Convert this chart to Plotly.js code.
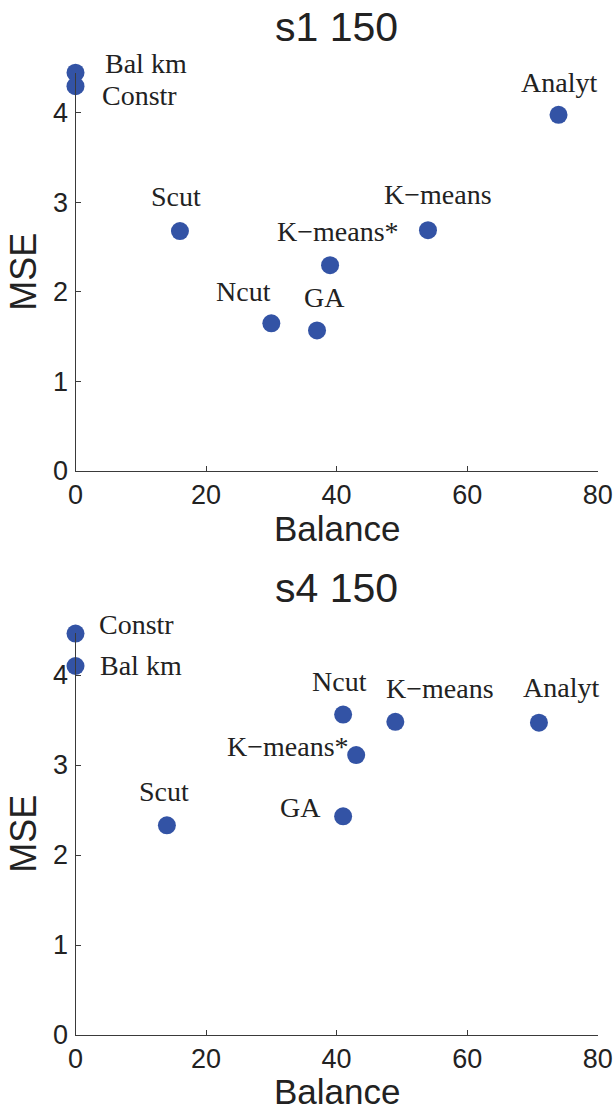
<!DOCTYPE html>
<html>
<head>
<meta charset="utf-8">
<script src="https://cdn.plot.ly/plotly-3.0.1.min.js"></script>
<style>html,body{margin:0;padding:0;background:#fff;}#chart{width:616px;height:1110px;}</style>
</head>
<body>
<div id="chart"></div>
<script>
// ---- data ----
const title1 = 's1 150';
const names1 = ['Bal km', 'Constr', 'Analyt', 'Scut', 'K\u2212means', 'K\u2212means*', 'Ncut', 'GA'];
const balance1 = [0, 0, 74, 16, 54, 39, 30, 37];
const mse1 = [4.45, 4.30, 3.98, 2.68, 2.69, 2.30, 1.65, 1.57];

const title2 = 's4 150';
const names2 = ['Constr', 'Bal km', 'Ncut', 'K\u2212means', 'Analyt', 'K\u2212means*', 'Scut', 'GA'];
const balance2 = [0, 0, 41, 49, 71, 43, 14, 41];
const mse2 = [4.46, 4.10, 3.56, 3.48, 3.47, 3.11, 2.33, 2.43];

const xTicks = [0, 20, 40, 60, 80];
const yTicks = [0, 1, 2, 3, 4];
const xTitle = 'Balance';
const yTitle = 'MSE';

// ---- styling (label pixel offsets relative to their points) ----
const shift1 = [[70, 9], [64, -9], [0, 32], [-4, 35], [10, 36], [8, 34], [-28, 32], [7, 33]];
const shift2 = [[61, 9], [65, 1], [-4, 33], [45, 33], [22, 35], [-68, 9], [-3, 34], [-43, 9]];

const markerColor = '#3353a5';
const axisColor = '#3a3a3a';
const textColor = '#222222';
const sans = 'Liberation Sans, Arial, sans-serif';
const serif = 'Liberation Serif, Times New Roman, serif';

function scatter(x, y, xa, ya) {
  return {
    type: 'scatter', mode: 'markers', x: x, y: y, xaxis: xa, yaxis: ya,
    marker: {size: 18, color: markerColor, line: {width: 0}},
    cliponaxis: false, hoverinfo: 'skip', showlegend: false
  };
}

function xaxisCfg() {
  return {
    domain: [75.5 / 616, 597.7 / 616], range: [0, 80], tickvals: xTicks, ticktext: xTicks.map(String),
    ticks: 'inside', ticklen: 5, tickwidth: 1, tickcolor: axisColor,
    showline: true, linecolor: axisColor, linewidth: 1, showgrid: false, zeroline: false,
    tickfont: {family: sans, size: 27, color: textColor},
    ticklabelstandoff: 0,
    fixedrange: true
  };
}
function yaxisCfg(domain, top) {
  return {
    domain: domain, range: [0, top], tickvals: yTicks, ticktext: yTicks.map(String),
    ticks: 'inside', ticklen: 5, tickwidth: 1, tickcolor: axisColor,
    showline: true, linecolor: axisColor, linewidth: 1, showgrid: false, zeroline: false,
    tickfont: {family: sans, size: 27, color: textColor},
    ticklabelstandoff: 1,
    title: {text: yTitle, font: {family: sans, size: 36, color: textColor}, standoff: 5},
    fixedrange: true
  };
}

function labels(names, xs, ys, shifts, xref, yref) {
  return names.map((n, i) => ({
    text: n, x: xs[i], y: ys[i], xref: xref, yref: yref, showarrow: false,
    xanchor: 'center', yanchor: 'middle', xshift: shifts[i][0], yshift: shifts[i][1],
    font: {family: serif, size: 28, color: textColor}
  }));
}

const H = 1110;
function paperText(text, px, py, size) {
  return {text: text, xref: 'paper', yref: 'paper', x: px / 616, y: (H - py) / H,
          xanchor: 'center', yanchor: 'middle', showarrow: false,
          font: {family: sans, size: size, color: textColor}};
}
const annotations = [].concat(
  labels(names1, balance1, mse1, shift1, 'x', 'y'),
  labels(names2, balance2, mse2, shift2, 'x2', 'y2'),
  [
    paperText(title1, 336.6, 27.5, 41),
    paperText(title2, 336.6, 587.5, 41),
    paperText(xTitle, 336.6, 528, 35),
    paperText(xTitle, 336.6, 1091, 35)
  ]
);

const layout = {
  width: 616, height: 1110,
  margin: {l: 0, r: 0, t: 0, b: 0},
  paper_bgcolor: '#ffffff', plot_bgcolor: '#ffffff',
  showlegend: false,
  xaxis: Object.assign(xaxisCfg(), {anchor: 'y'}),
  yaxis: Object.assign(yaxisCfg([(H - 471) / H, (H - 72.7) / H], 4.45), {anchor: 'x'}),
  xaxis2: Object.assign(xaxisCfg(), {anchor: 'y2'}),
  yaxis2: Object.assign(yaxisCfg([(H - 1035) / H, (H - 632.7) / H], 4.47), {anchor: 'x2'}),
  annotations: annotations
};

Plotly.newPlot('chart', [
  scatter(balance1, mse1, 'x', 'y'),
  scatter(balance2, mse2, 'x2', 'y2')
], layout, {staticPlot: true, displayModeBar: false});
</script>
</body>
</html>
